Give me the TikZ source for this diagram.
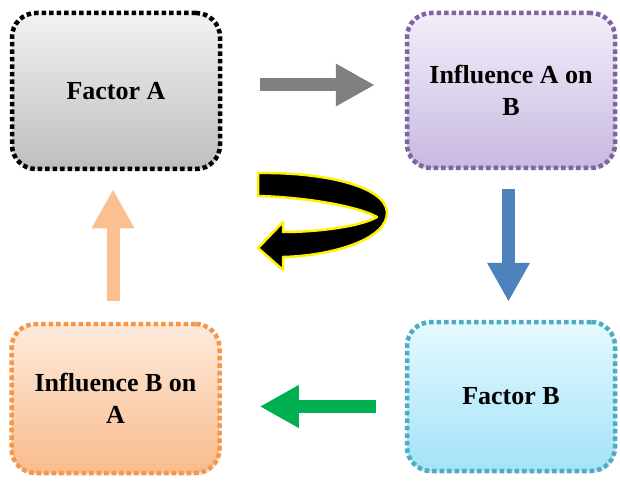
\documentclass[tikz,border=0pt]{standalone}
\usepackage{fontspec}
\setmainfont{Liberation Serif}
\usetikzlibrary{arrows.meta,calc,shadows}
\definecolor{purpleB}{HTML}{8064A2}
\definecolor{orangeB}{HTML}{F79646}
\definecolor{cyanB}{HTML}{4BACC6}
\definecolor{grayArr}{HTML}{808080}
\definecolor{blueArr}{HTML}{4F81BD}
\definecolor{greenArr}{HTML}{00B050}
\definecolor{peachArr}{HTML}{FAC090}
\definecolor{faTop}{HTML}{F2F2F2}
\definecolor{faBot}{HTML}{BEBEBE}
\definecolor{iabTop}{HTML}{F3EEF9}
\definecolor{iabBot}{HTML}{C8B9E2}
\definecolor{fbTop}{HTML}{E6F9FF}
\definecolor{fbBot}{HTML}{A2E3F7}
\definecolor{ibaTop}{HTML}{FDEBDD}
\definecolor{ibaBot}{HTML}{F9BB8B}
\begin{document}
\begin{tikzpicture}[x=1pt,y=-1pt,
  box/.style={rectangle, rounded corners=24pt, line width=4.5pt,
    dash pattern=on 4.5pt off 3pt, minimum width=208pt,
    align=center, inner sep=0pt,
    font=\bfseries\fontsize{26}{32}\selectfont,
    drop shadow={opacity=0.2, shadow xshift=1pt, shadow yshift=-2pt}},
  blockarrow/.style={line width=13pt, -{Triangle[length=39pt,width=40pt]}}]
\path[use as bounding box] (0,0) rectangle (620,486);

\node[box, minimum height=156pt, draw=black, top color=faTop, bottom color=faBot] (fa) at (116,91) {Factor A};
\node[box, minimum height=155pt, draw=purpleB, top color=iabTop, bottom color=iabBot] (iab) at (511,90.5) {Influence A on\\B};
\node[box, minimum height=149pt, draw=cyanB, top color=fbTop, bottom color=fbBot] (fb) at (511,396.5) {Factor B};
\node[box, minimum height=149pt, draw=orangeB, top color=ibaTop, bottom color=ibaBot] (iba) at (115.5,398.5) {Influence B on\\A};

\draw[blockarrow, grayArr] ($(fa.east)+(38,-6)$) -- ($(iab.west)+(-30,-5.5)$);
\draw[blockarrow, blueArr] ($(iab.south)+(-2.5,19)$) -- ($(fb.north)+(-2.5,-18)$);
\draw[blockarrow, greenArr] ($(fb.west)+(-29,10)$) -- ($(iba.east)+(38,8)$);
\draw[blockarrow, peachArr] ($(iba.north)+(-2.5,-21)$) -- ($(fa.south)+(-3,18)$);

\coordinate (cyc) at (258,173);
\draw[fill=black, draw=yellow, line width=2.5pt, line join=round]
  (cyc) .. controls (320,172) and (385,185) .. (387,212)
  .. controls (388,240) and (330,256) .. (283,257)
  -- (283,270) -- (258,248) -- (283,222) -- (283,232)
  .. controls (320,232) and (362,226) .. (377,217)
  .. controls (355,205) and (300,197) .. (258,196) -- cycle;
\end{tikzpicture}
\end{document}
